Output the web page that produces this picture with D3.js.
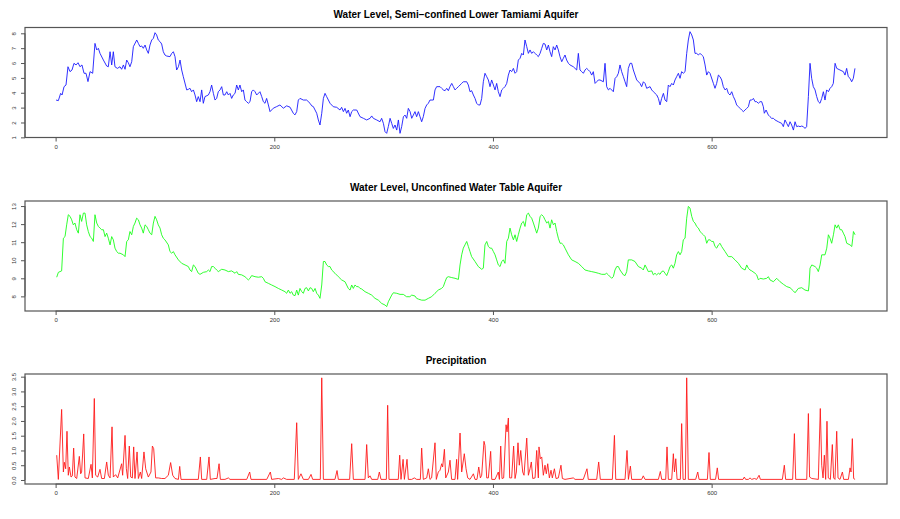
<!DOCTYPE html>
<html><head><meta charset="utf-8">
<script src="https://cdn.jsdelivr.net/npm/d3@7"></script>
<style>html,body{margin:0;padding:0;background:#fff;}svg{display:block;}</style>
</head><body>
<svg id="chart" width="900" height="519"></svg>
<script>
// ---------- DATA ----------
const xTicks = [0, 200, 400, 600];

const confinedTitle = "Water Level, Semi\u2212confined Lower Tamiami Aquifer";
const confinedTicks = [1, 2, 3, 4, 5, 6, 7, 8];
const confinedDays = [0.4,2.5,4.6,5.9,7.7,9.5,11.3,13.2,15,16.8,18.7,20.5,22.3,24.1,26,27.8,29.6,31.5,33.9,36,37.6,39.1,40.6,43.7,46.7,48.2,49.8,51.3,52.8,54.3,56.5,58.9,60.4,62,63.5,65,66.5,68,69.6,71.1,74.2,75.7,77.2,78.7,80.2,81.8,83.3,84.8,86.3,87.9,89.4,90.9,92.4,93.9,95.5,97,98.5,100,101.6,104.6,106.2,107.7,109.2,110.7,112.3,113.8,115.3,116.8,119.9,121.4,122.9,124.4,126,127.5,129,130.5,132.1,133.6,135.1,136.6,139.7,141.2,142.7,144.3,145.8,147.3,148.8,150.4,151.9,153.4,154.9,156.5,158,159.5,161,162.5,164.1,165.6,167.1,168.6,170.2,171.7,173.2,174.7,176.3,177.8,179.3,180.8,182.4,183.9,186.9,188.5,190,191.5,193,194.6,196.1,199.1,202.2,205.2,208.3,211.3,214.4,217.4,218.9,220.5,222,223.5,226.6,229.6,232.7,234.2,235.7,238.8,240.3,241.8,243.4,244.9,246.4,247.9,251,
254,257.1,260.1,261.6,263.2,264.7,266.2,267.7,269.3,270.8,272.3,275.4,278.4,281.5,284.5,287.6,289.1,290.6,293.7,296.7,298.2,299.8,301.3,302.8,304.3,305.9,307.4,308.9,310.4,312,313.5,315,316.5,318.1,319.6,321.1,322.6,324.2,325.7,327.2,328.7,330.2,331.8,333.3,334.8,336.3,337.9,339.4,340.9,342.4,345.5,347,348.5,351.6,353.1,354.6,356.2,357.7,359.2,360.7,362.3,363.8,365.3,366.8,368.4,369.9,371.4,372.9,376,377.5,379,380.5,382.1,383.6,385.1,386.6,388.2,389.7,391.2,392.7,394.3,395.8,397.3,398.8,400.4,401.9,403.4,404.9,406.5,408,409.5,411,412.6,414.1,415.6,417.1,418.7,420.2,421.7,423.2,424.8,426.3,427.8,429.3,430.9,432.4,433.9,435.4,437,438.5,440,441.5,443.1,444.6,446.1,447.6,449.2,450.7,452.2,453.7,455.2,456.8,458.3,459.8,461.3,462.9,464.4,465.9,467.4,469,470.5,473.5,476.6,478.1,479.6,481.2,482.7,484.2,485.7,487.3,488.8,490.3,491.8,493.4,494.9,496.4,
497.9,501,502.5,504,505.6,507.1,510.1,511.7,513.2,514.7,516.2,517.7,519.3,520.8,522.3,523.8,525.4,526.9,528.4,531.5,534.5,536,537.6,539.1,540.6,543.7,545.2,546.7,549.8,551.3,552.8,554.3,555.9,557.4,558.9,560.4,561.9,563.5,565,566.5,568,569.6,571.1,572.6,574.1,575.7,577.2,578.7,580.2,581.8,583.3,584.8,586.3,587.9,589.4,590.9,592.4,594,595.5,597,598.5,601.6,603.1,604.6,606.2,607.7,609.2,610.7,612.3,613.8,615.3,616.8,618.4,619.9,621.4,622.9,624.5,626,627.5,629,630.6,632.1,633.6,635.1,636.7,638.2,639.7,641.2,642.7,644.3,645.8,647.3,648.2,649.8,651.9,653.4,654.9,656.5,658,661,664.1,665.6,667.1,668.7,670.2,671.7,673.2,674.8,676.3,677.8,679.3,680.9,682.4,683.9,685.4,686.9,688.5,690,691.5,693,694.6,696.1,697.6,699.1,700.7,702.2,703.7,705.2,706.8,708.3,709.8,711.3,712.9,714.4,717.4,720.5,722,723.5,725,726.6,728.1,729.6,731.1];
const confinedLevels = [3.51,3.47,3.96,3.85,4.41,4.52,5.75,5.42,5.53,5.98,5.87,6.02,5.75,5.87,5.31,5.31,4.75,5.42,5.31,7.32,6.88,6.99,6.65,6.2,5.8,5.75,6.76,5.87,6.76,5.75,5.64,5.75,5.58,5.87,5.58,6.2,6.02,5.75,6.09,7.1,7.55,7.32,7.1,7.15,6.99,7.21,6.88,6.65,7.21,7.55,7.66,8.04,7.89,7.55,7.44,7.28,6.76,6.54,6.47,6.43,6.65,6.76,6.43,5.53,5.75,6.2,5.53,5.08,4.19,4.23,4.3,4.07,4.19,3.85,3.4,3.74,3.4,4.19,3.29,3.74,3.85,4.07,4.52,3.96,3.51,3.62,4.07,4.19,4.41,3.85,3.85,4.07,3.85,3.96,3.62,3.85,3.96,4.52,4.19,4.52,4.07,4.19,3.51,3.4,3.29,3.4,4.07,4.19,4.07,3.85,4.07,3.74,3.4,3.29,3.62,3.18,2.73,2.96,3.07,3.18,2.96,3.12,3.03,2.62,2.51,2.73,3.51,3.62,3.51,3.51,3.29,3.12,3.07,2.62,2.17,1.83,2.62,3.62,3.96,3.74,3.29,
3.06,3.02,2.84,3.02,2.73,2.95,2.62,2.84,2.39,2.73,2.84,2.84,2.39,2.28,2.17,2.28,2.44,2.28,2.17,2.05,2.28,1.94,1.38,1.27,1.72,2.28,1.94,1.6,1.83,1.49,2.17,1.27,1.72,2.39,2.5,2.28,2.95,2.73,2.28,2.5,2.73,2.39,2.73,2.39,2.05,2.39,2.95,3.18,3.29,3.51,3.51,4.19,4.41,4.41,4.3,4.19,4.14,4.3,4.14,4.41,4.63,4.41,4.19,4.3,4.41,4.52,4.63,4.74,4.74,4.52,4.07,4.14,3.85,3.62,3.29,3.18,3.18,3.62,4.74,5.31,5.08,4.86,4.41,4.86,4.52,4.19,4.63,4.07,3.74,4.19,4.3,4.41,4.63,5.19,5.53,5.42,5.64,5.31,5.42,6.2,6.32,6.65,6.54,7.55,7.1,6.65,6.88,6.65,6.76,6.65,6.54,6.43,6.65,6.99,7.32,7.28,6.88,7.21,6.76,6.43,7.1,6.88,7.21,6.88,6.43,6.09,6.32,6.54,6.2,5.98,5.87,5.75,5.53,6.65,5.53,5.42,5.31,5.53,5.64,5.53,5.42,5.19,5.42,4.63,4.74,4.86,
4.86,4.74,5.98,4.41,4.19,4.3,4.07,4.97,5.08,5.31,5.87,5.42,5.08,4.74,4.41,5.64,5.98,5.98,5.53,4.86,4.63,4.41,4.74,4.63,4.3,4.41,4.19,4.07,3.85,3.62,3.18,3.62,3.96,3.51,3.4,4.52,4.41,4.63,4.52,4.86,5.08,5.31,4.97,5.42,5.31,5.42,6.65,7.55,8.11,7.89,7.55,6.65,6.65,6.54,6.65,6.54,6.43,5.87,5.19,5.42,5.31,4.63,4.3,4.63,5.19,5.08,4.86,4.41,4.19,4.3,3.96,3.85,4.07,3.74,3.51,3.18,3.06,2.95,2.84,2.73,2.84,2.95,3.06,3.51,3.51,3.62,3.4,3.4,3.29,3.4,3.4,3.06,2.62,2.84,2.5,2.39,2.28,2.28,2.17,2.05,1.94,1.72,2.17,1.94,1.72,2.05,1.83,1.49,2.05,1.72,1.76,1.72,1.76,1.72,1.6,1.72,3.74,5.98,4.97,4.41,4.19,3.74,3.4,3.29,3.62,4.07,3.51,4.19,4.07,4.3,4.41,4.63,5.98,5.64,5.53,5.42,5.19,5.64,5.08,4.97,4.74,4.97,5.64];

const tableTitle = "Water Level, Unconfined Water Table Aquifer";
const tableTicks = [8, 9, 10, 11, 12, 13];
const tableDays = [1,2.5,5.5,7.1,8.6,10.1,11.6,13.2,14.7,16.2,17.7,19.3,20.8,22.3,23.8,25.4,26.9,28.4,29.9,31.5,33,34.5,36,37.6,39.1,40.6,42.1,43.7,45.2,46.7,48.2,49.8,51.3,52.8,54.3,55.9,57.4,58.9,62,63.5,65,66.5,68,69.6,71.1,72.6,74.1,75.7,77.2,78.7,80.2,81.8,83.3,84.8,86.3,87.9,89.4,90.9,92.4,93.9,95.5,97,98.5,100,103.1,104.6,106.2,107.7,109.2,112.3,115.3,118.4,121.4,122.9,124.4,126,127.5,129,130.5,132.1,135.1,138.2,139.7,141.2,142.7,144.3,145.8,147.3,148.8,151.9,154.9,158,161,164.1,165.6,167.1,170.2,173.2,174.7,176.3,177.8,179.3,182.4,185.4,188.5,190,191.5,194.6,197.6,200.7,203.7,206.8,209.8,211.3,212.9,214.4,215.9,217.4,219,220.5,222,223.5,225.1,226.6,228.1,229.6,231.2,232.7,234.2,235.7,237.3,238.8,240.3,241.8,243.4,244.9,246.4,247.9,249.5,251,252.5,255.5,258.6,261.6,264.7,267.7,269.3,270.8,272.3,273.8,275.4,276.9,278.4,279.9,283,286,289.1,292.1,295.2,298.2,301.3,302.8,304.3,307.4,308.9,312,315,318,321,324,325.7,328.7,330.2,331.8,334.8,337.9,340.9,343.9,347,350,353,354.6,356.2,357.7,359.2,362.3,365.3,368.4,
369.9,371.4,372.9,374.4,376,377.5,379,380.5,383.6,386.6,389.7,391.2,392.7,394.3,395.8,397.3,398.8,400.4,401.9,403.4,404.9,406.5,408,409.5,411,412.6,414.1,415.6,417.1,418.7,420.2,421.7,423.2,424.8,426.3,427.8,429.3,430.9,432.4,433.9,435.4,437,438.5,440,441.5,443.1,444.6,446.1,447.6,449.2,450.7,452.2,453.7,455.3,456.8,458.3,459.8,461.4,462.9,464.4,465.9,469,472,475.1,478.1,481.2,484.2,487.3,490.3,493.4,496.4,499.5,502.5,504,505.5,508.6,510.1,511.6,513.2,514.7,516.2,519.3,520.8,522.3,523.8,526.9,529.9,533,536,537.5,539.1,540.6,542.1,545.2,546.7,548.2,549.7,551.3,552.8,554.3,555.8,557.4,558.9,560.4,561.9,563.5,565,566.5,568,569.6,571.1,572.6,574.1,575.7,577.2,578.7,580.2,581.8,583.3,584.8,586.3,587.9,589.4,590.9,592.4,594,595.5,597,598.5,600.1,601.6,603.1,604.6,606.2,607.7,609.2,612.3,615.3,618.4,621.4,624.5,627.5,630.6,632.1,633.6,635.1,636.7,639.7,641.2,642.8,644.3,647.3,650.4,651.9,653.4,656.5,659.5,662.6,665.6,668.7,671.7,674.8,676.3,679.3,682.4,685.4,688.5,689.1,690,691.6,694.6,696.1,697.6,699.2,700.7,703.7,705.3,706.8,708.3,709.8,711.4,712.9,714.4,715.9,717.5,719,720.5,722,723.6,726.6,728.2,729.1,729.7,731.2];
const tableLevels = [9.06,9.33,9.41,11.22,11.31,11.96,12.52,12.43,12.24,11.96,12.06,11.69,11.5,12.52,12.15,12.61,12.61,11.96,11.59,11.31,11.22,11.04,12.52,12.06,11.87,11.78,11.69,11.69,11.31,11.5,11.22,10.85,11.31,11.13,10.67,10.48,10.39,10.39,10.3,10.2,11.04,11.13,11.59,11.41,11.87,12.06,12.33,12.24,11.96,11.78,11.5,11.96,11.87,11.69,11.5,11.41,12.06,12.43,12.24,11.96,11.78,11.41,11.22,11.13,10.85,10.48,10.39,10.48,10.3,10.02,9.83,9.74,9.65,9.46,9.37,9.74,9.65,9.46,9.28,9.22,9.33,9.37,9.46,9.37,9.65,9.65,9.56,9.46,9.37,9.5,9.46,9.37,9.41,9.28,9.37,9.22,9.19,9.09,9,8.91,9,9.15,9.09,9.06,9.09,9,8.81,8.72,8.63,8.54,8.44,8.35,8.26,8.17,8.35,8.17,8.26,8.07,8.04,8.35,8.07,8.44,8.26,8.17,8.44,8.48,8.3,8.48,8.44,8.26,8.44,8.17,8.07,7.89,8.63,9.93,9.93,9.74,9.65,9.65,9.46,9.28,9.09,8.91,8.81,8.44,8.35,8.63,8.44,8.63,8.54,8.54,8.44,8.41,8.26,8.17,8.07,7.89,7.79,7.61,7.52,7.43,7.7,8.07,8.2,8.17,8.11,8.11,7.98,7.98,8.07,8.02,7.89,7.85,7.79,7.79,7.89,7.98,8.17,8.35,8.44,8.54,8.81,9.04,9.09,9.04,9,8.94,
9.74,10.3,10.67,10.85,11.04,10.76,10.48,10.2,9.93,9.65,9.5,9.56,10.85,11.04,10.76,10.67,10.67,10.48,10.3,10.02,9.74,9.65,9.93,10.02,9.83,11.04,11.22,11.78,11.41,11.13,11.41,11.04,11.41,11.78,12.06,12.15,11.87,12.52,12.61,12.43,12.33,12.06,11.78,11.5,11.78,12.43,12.52,12.43,12.24,12.06,12.15,11.78,12.24,11.96,12.06,11.59,11.22,10.94,10.94,10.85,10.67,10.3,10.02,9.93,9.83,9.65,9.46,9.41,9.37,9.33,9.28,9.22,9.22,9.28,9.19,9,9.09,9.46,9.65,9.65,9.46,9.19,9.15,9.37,10.02,10.02,9.93,9.65,9.56,9.46,9.74,9.56,9.37,9.41,9.19,9.28,9.19,9.28,9.22,9.37,9.41,9.28,9.15,9.37,9.65,9.74,9.56,9.83,10.3,10.48,10.3,10.48,11.13,11.22,12.33,12.98,12.89,12.43,12.15,12.06,11.87,11.78,11.59,11.5,11.41,11.31,10.94,11.13,11.13,11.04,11.04,10.76,10.67,10.85,10.94,10.76,10.48,10.2,10.2,10.02,9.83,9.56,9.46,9.74,9.56,9.46,9.41,9.28,9.19,8.91,9,8.96,9,9.09,8.91,8.81,9,8.81,8.67,8.54,8.48,8.3,8.2,8.44,8.48,8.35,8.3,8.63,9.56,9.74,9.65,9.56,9.37,9.74,10.3,10.3,10.67,11.41,11.22,10.94,11.41,11.96,11.78,11.96,11.69,11.69,11.5,11.31,10.94,10.85,10.76,11.22,11.59,11.41];

const rainTitle = "Precipitation";
const rainTicks = [0, 0.5, 1, 1.5, 2, 2.5, 3, 3.5];
const rainDays = [1,2.5,5.5,7.1,8,9.2,10.4,11.6,12.6,14.1,15.3,16.5,17.7,19.3,21.7,22.9,23.8,25.7,26.9,29.9,32.4,33.6,35.4,36.6,38.5,40.6,42.1,44.6,46.7,48.2,49.8,51.6,52.8,54.9,56.8,60.4,61.3,63.5,64.7,65.9,67.4,68.7,70.2,71.4,72.6,74.5,75.7,77.5,78.7,80.8,82.4,84.8,87.2,88.5,89.7,91.5,93.9,97,100,103.1,105.2,107.1,109.2,112.3,113.5,114.7,130.5,132.4,133.6,138.2,140.3,141.5,145.8,147.6,149.5,150.7,154.9,158,159.5,174.8,177.5,178.7,193.1,196.4,197.6,203.7,206.8,208.3,211.3,218.3,220.5,222,224.4,226.6,231.2,233.6,235.1,242.1,243.4,244.9,255.5,257.4,258.6,268.9,270.8,272.3,283,284.5,286,287.6,289.1,294.6,296.1,297.6,302.5,303.7,304.9,313.4,314.7,315.9,317.8,319,321.4,322.6,325.7,328.1,330.2,333.6,334.8,336.3,339.4,340.9,342.4,343.9,347,348.2,350,351.6,353.1,354,355.6,356.8,359.2,360.7,362.2,365.3,
366.8,367.7,369.9,371.4,373.8,375.4,376.9,379,382.1,383.6,385.4,387,388.5,389.7,391.8,392.7,394.3,395.8,397.9,398.9,401.9,404.9,405.9,407.1,408.3,409.8,412,412.9,414.1,415.3,417.1,418.9,420.2,421.4,422.9,424.1,425.4,427.2,428.4,430.9,432.4,433.9,435.1,436.4,438.5,440,441.5,442.1,443.3,444.6,446.1,447.6,448.8,450.1,451.6,453.1,454.3,456.2,457.7,459.8,462.2,463.5,465.9,473.5,475.1,482.6,486,487.2,494.9,496.7,498.2,509.2,511.1,512.3,520.8,522.6,523.9,525.7,526.9,536,537.5,539.1,551.3,553.1,554.3,558,559.2,560.4,563.5,565,566,567.2,568.4,571.4,572.6,573.9,576,577.2,578.7,585.4,587.3,588.5,596.1,597.6,598.8,603.6,605.2,606.4,628.7,629.9,631.1,633.6,635.1,636.7,639.1,641.2,643.4,644.6,664.7,666.5,667.7,674.1,675.7,676.9,687,688.5,689.6,691.6,697.6,699.4,700.7,701.9,703.1,704.3,705.5,706.7,708.6,710.4,711.6,712.8,714.4,715.6,717.4,719.6,720.8,725.1,726.6,727.5,728.7,729.9,731.2];
const rainAmounts = [0.84,0.02,2.39,0.27,0.6,0.38,1.65,0.16,0.44,0.1,0.14,1.08,0.1,0.05,0.8,0.21,0.27,1.56,0.07,0.05,0.53,0.07,2.76,0.16,0.1,0.36,0.05,0.05,0.61,0.16,0.07,1.8,0.1,0.18,0.07,0.55,0.16,1.51,0.38,0.05,1.15,0.1,0.07,1.12,0.05,0.95,0.05,0.27,0.05,0.95,0.38,0.1,0.27,1.15,1.06,0.07,0.07,0.05,0.05,0.16,0.59,0.16,0.05,0.02,0.46,0.02,0.02,0.78,0.02,0.02,0.78,0.02,0.05,0.05,0.55,0.02,0.02,0.07,0.02,0.02,0.27,0.02,0.02,0.27,0.02,0.05,0.02,0.07,0.02,0.02,1.94,0.02,0.21,0.02,0.02,0.19,0.02,0.02,3.46,0.02,0.02,0.32,0.02,0.02,1.23,0.02,0.02,1.2,0.07,0.14,0.02,0.02,0.27,0.02,0.02,2.53,0.02,0.02,0.84,0.02,0.7,0.02,0.7,0.02,0.02,0.07,0.02,0.02,1.08,0.02,0.07,0.38,0.02,0.07,1.26,0.02,0.27,0.33,0.55,0.44,1.04,0.07,0.27,0.67,0.02,0.02,
0.7,0.02,1.59,0.27,0.89,0.38,0.07,0.02,0.21,0.02,0.02,0.44,0.07,0.16,1.31,1.17,0.07,0.07,0.97,0.02,0.02,0.27,0.02,1.15,0.05,0.07,1.87,1.63,2.1,0.07,0.07,1.15,0.05,0.27,1.26,0.5,1,0.27,0.16,1.42,0.16,0.38,0.61,0.05,0.07,1,0.07,1.12,0.72,0.78,0.16,0.5,0.21,0.55,0.07,0.33,0.07,0.38,0.05,0.07,0.5,0.05,0.02,0.07,0.02,0.02,0.38,0.02,0.02,0.61,0.02,0.02,1.51,0.02,0.02,1,0.02,0.47,0.02,0.02,0.14,0.02,0.02,0.29,0.02,0.02,1.12,0.02,0.02,0.89,0.27,0.72,0.02,0.02,1.91,0.02,0.02,3.46,0.02,0.02,0.27,0.02,0.02,0.93,0.02,0.02,0.41,0.02,0.02,0.1,0.02,0.02,0.07,0.02,0.05,0.02,0.16,0.02,0.02,0.5,0.02,0.02,1.57,0.02,0.02,2.25,0.1,0.05,0.02,2.42,0.5,0.07,0.84,0.02,1.99,0.07,0.02,1.2,0.07,0.02,1.65,0.07,0.02,0.27,0.02,0.02,0.41,0.27,1.4,0.05,0.02];

// ---------- LAYOUT ----------
const svg = d3.select("#chart");
const left = 25, right = 887;
const xLim = [-28, 760.4];
const panels = [
  {title: confinedTitle, days: confinedDays, vals: confinedLevels, ticks: confinedTicks, fmt: d3.format("d"),
   top: 27.5, bottom: 137.5, yLim: [0.99, 8.39], color: "#1a1aff"},
  {title: tableTitle, days: tableDays, vals: tableLevels, ticks: tableTicks, fmt: d3.format("d"),
   top: 201, bottom: 311, yLim: [7.19, 13.28], color: "#1aff1a"},
  {title: rainTitle, days: rainDays, vals: rainAmounts, ticks: rainTicks, fmt: d3.format(".1f"),
   top: 374, bottom: 484, yLim: [-0.136, 3.59], color: "#ff1a1a"}
];

const x = d3.scaleLinear().domain(xLim).range([left, right]);
const font = "'Liberation Sans', Arial, Helvetica, sans-serif";
const axisColor = "#555";

panels.forEach(p => {
  const y = d3.scaleLinear().domain(p.yLim).range([p.bottom, p.top]);
  const g = svg.append("g");

  // series line
  const pts = p.days.map((d, i) => [d, p.vals[i]]);
  g.append("path")
    .datum(pts)
    .attr("fill", "none")
    .attr("stroke", p.color)
    .attr("stroke-width", 0.9)
    .attr("stroke-linejoin", "round")
    .attr("d", d3.line().x(d => x(d[0])).y(d => y(d[1])));

  // box
  g.append("rect")
    .attr("x", left).attr("y", p.top)
    .attr("width", right - left).attr("height", p.bottom - p.top)
    .attr("fill", "none").attr("stroke", axisColor).attr("stroke-width", 1.2);

  // x axis
  const xa = d3.axisBottom(x).tickValues(xTicks).tickSize(4).tickPadding(3).tickFormat(d3.format("d"));
  const gx = g.append("g").attr("transform", `translate(0,${p.bottom})`).call(xa);
  gx.select(".domain").attr("d", `M${x(xTicks[0])},0H${x(xTicks[xTicks.length-1])}`).attr("stroke", axisColor);
  gx.selectAll(".tick line").attr("stroke", axisColor);
  gx.selectAll("text").attr("font-family", font).attr("font-size", 6).attr("fill", "#333");

  // y axis
  const ya = d3.axisLeft(y).tickValues(p.ticks).tickSize(4).tickFormat(p.fmt);
  const gy = g.append("g").attr("transform", `translate(${left},0)`).call(ya);
  gy.select(".domain").attr("d", `M0,${y(p.ticks[0])}V${y(p.ticks[p.ticks.length-1])}`).attr("stroke", axisColor);
  gy.selectAll(".tick line").attr("stroke", axisColor);
  gy.selectAll("text")
    .attr("font-family", font).attr("font-size", 6).attr("fill", "#333")
    .attr("x", null).attr("dy", null)
    .attr("text-anchor", "middle")
    .attr("transform", "translate(-9,0) rotate(-90)")
    .attr("y", 0);

  // title
  svg.append("text")
    .attr("x", (left + right) / 2).attr("y", p.top - 10)
    .attr("text-anchor", "middle")
    .attr("font-family", font).attr("font-weight", "bold").attr("font-size", 10)
    .attr("fill", "#000")
    .text(p.title);
});
</script>
</body></html>
